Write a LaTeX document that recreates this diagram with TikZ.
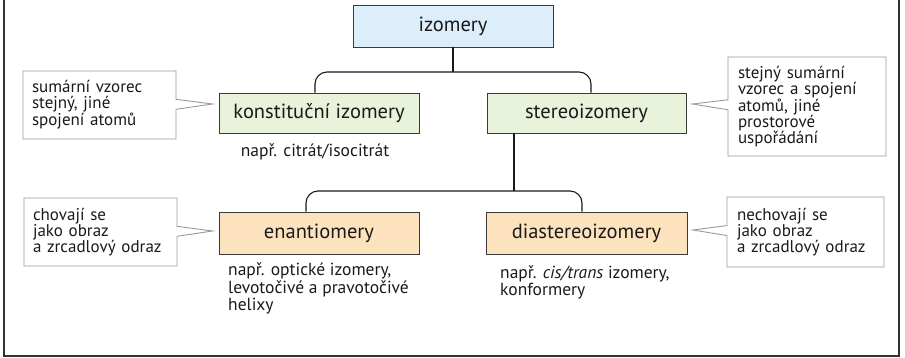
\documentclass[tikz,border=0pt]{standalone}
\usepackage{fontspec}
\setmainfont{PT Sans}
\usetikzlibrary{shapes.callouts,calc}
\definecolor{bluefill}{HTML}{DCEEFA}
\definecolor{greenfill}{HTML}{E9F2DA}
\definecolor{orangefill}{HTML}{FCE3BE}
\definecolor{boxline}{HTML}{3A3A3A}
\definecolor{callline}{HTML}{9A9A9A}
\definecolor{txt}{HTML}{1A1A1A}
\begin{document}
\begin{tikzpicture}[x=1pt,y=-1pt,
  mainbox/.style={draw=boxline, line width=0.9pt, inner sep=0pt, text=txt,
    font=\fontsize{20.5}{23}\selectfont},
  callbox/.style={rectangle callout, draw=callline, line width=0.9pt, fill=white,
    text=txt, align=left, inner ysep=0pt, callout pointer width=10pt,
    font=\fontsize{17}{16}\selectfont},
  extext/.style={text=txt, inner sep=0pt, align=left,
    font=\fontsize{17.5}{15.5}\selectfont},
  conn/.style={draw=black!90, line width=1.1pt, rounded corners=12pt},
  frame/.style={draw=black!80, line width=1.6pt}
]
\useasboundingbox (0,0) rectangle (905,358);
\draw[frame] (4,-2) -- (4,356) -- (899,356) -- (899,-2);

% main boxes
\node[mainbox, fill=bluefill, minimum width=200pt, minimum height=42pt] (izo) at (453,26) {izomery};
\node[mainbox, fill=greenfill, minimum width=200pt, minimum height=40pt] (konst) at (319,113) {konstituční izomery};
\node[mainbox, fill=greenfill, minimum width=199pt, minimum height=40pt] (stereo) at (586.5,113) {stereoizomery};
\node[mainbox, fill=orangefill, minimum width=200pt, minimum height=42pt] (enan) at (319,233) {enantiomery};
\node[mainbox, fill=orangefill, minimum width=201pt, minimum height=42pt] (dia) at (586.5,233) {diastereoizomery};

% connectors
\coordinate (j1) at (453,72);
\coordinate (j2) at (514,191);
\draw[conn] (izo.south) -- (j1);
\draw[conn] ($(konst.north)+(-4,0)$) |- (j1) -| ($(stereo.north)+(4.5,0)$);
\draw[conn] (stereo.south -| j2) -- (j2);
\draw[conn] ($(enan.north)+(-13,0)$) |- (j2) -| ($(dia.north)+(-4.5,0)$);

% callouts
\node[callbox, text width=135pt, inner xsep=9pt, minimum height=68pt,
  callout absolute pointer={($(konst.west)+(-6,-9)$)}] (c1) at (99.5,105)
  {sumární vzorec\\stejný, jiné\\spojení atomů};
\node[callbox, text width=138pt, inner xsep=10pt, minimum height=99pt,
  callout absolute pointer={($(stereo.east)+(6,-9)$)}] (c2) at (807,106.5)
  {stejný sumární\\\mbox{vzorec a spojení}\\atomů, jiné\\prostorové\\uspořádání};
\node[callbox, text width=135pt, inner xsep=9pt, minimum height=68pt,
  callout absolute pointer={($(enan.west)+(-6,-2)$)}] (c3) at (100.5,232)
  {chovají se\\jako obraz\\\mbox{a zrcadlový odraz}};
\node[callbox, text width=137pt, inner xsep=10pt, minimum height=70pt,
  callout absolute pointer={($(dia.east)+(5.5,-3)$)}] (c4) at (805.5,232)
  {nechovají se\\jako obraz\\\mbox{a zrcadlový odraz}};

% examples
\node[extext, anchor=base] (ex1) at (315,157) {např. citrát/isocitrát};
\node[extext, anchor=base west] (ex2) at (228,310)
  {např. optické izomery,\\\mbox{levotočivé a pravotočivé}\\helixy};
\node[extext, anchor=base west] (ex3) at (500,295)
  {např. \textit{cis/trans} izomery,\\konformery};
\end{tikzpicture}
\end{document}
